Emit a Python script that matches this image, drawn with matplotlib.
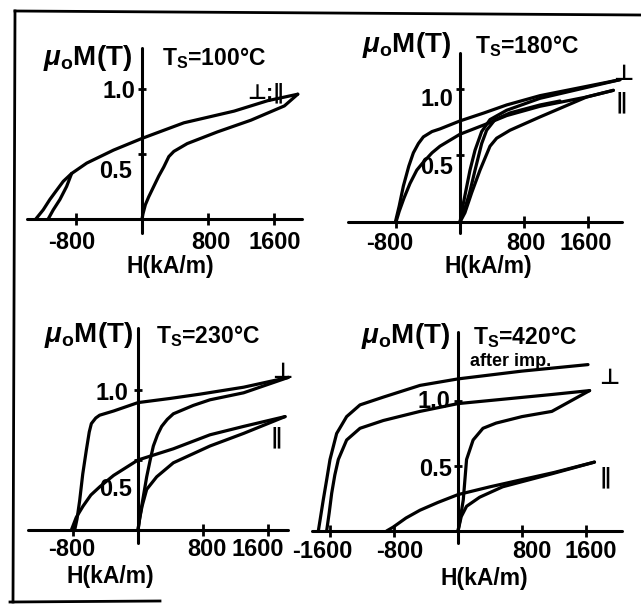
import matplotlib
matplotlib.use("Agg")
import matplotlib.pyplot as plt
from matplotlib.lines import Line2D

W, H = 641, 614

plt.rcParams['font.family'] = ['Liberation Sans', 'DejaVu Sans']
plt.rcParams['font.weight'] = 'bold'
plt.rcParams['mathtext.fontset'] = 'custom'
plt.rcParams['mathtext.rm'] = 'Liberation Sans:bold'
plt.rcParams['mathtext.it'] = 'Liberation Sans:italic:bold'
plt.rcParams['mathtext.bf'] = 'Liberation Sans:bold'

# field H in kA/m, magnetisation mu0*M in T

# Ts = 100 C (perpendicular and parallel coincide)
p1_up_h = [-1287, -1198, -1117, -1036, -954, -853, -670, -345, 0, 508, 1117, 1523, 1888]
p1_up_m = [0, 0.07, 0.15, 0.22, 0.29, 0.35, 0.43, 0.53, 0.62, 0.74, 0.83, 0.91, 0.96]
p1_in_h = [-1137, -1076, -995, -914, -853]
p1_in_m = [0, 0.07, 0.15, 0.25, 0.35]
p1_lo_h = [0, 12, 41, 81, 142, 203, 264, 325, 386, 548, 914, 1320, 1726, 1888]
p1_lo_m = [0, 0.04, 0.11, 0.17, 0.25, 0.33, 0.40, 0.48, 0.52, 0.58, 0.67, 0.76, 0.87, 0.96]

# Ts = 180 C
p2_perp_up_h = [-808, -760, -708, -640, -583, -520, -458, -350, -250, 0, 300, 583, 1000, 1417, 2000]
p2_perp_up_m = [0, 0.12, 0.27, 0.42, 0.52, 0.59, 0.64, 0.68, 0.70, 0.76, 0.82, 0.88, 0.95, 1.00, 1.07]
p2_perp_lo_h = [0, 42, 85, 125, 188, 271, 375, 583, 1000, 1500, 2000]
p2_perp_lo_m = [0, 0.14, 0.27, 0.39, 0.54, 0.68, 0.77, 0.84, 0.93, 1.00, 1.07]
p2_par_up_h = [-800, -760, -700, -625, -540, -458, -350, -250, 0, 300, 583, 1000, 1583, 1917]
p2_par_up_m = [0, 0.08, 0.18, 0.29, 0.39, 0.45, 0.52, 0.57, 0.66, 0.73, 0.80, 0.87, 0.94, 0.99]
p2_par_mid_h = [0, 60, 120, 188, 271, 333, 438, 625, 1000, 1250]
p2_par_mid_m = [0, 0.10, 0.22, 0.39, 0.59, 0.69, 0.77, 0.82, 0.88, 0.91]
p2_par_lo_h = [0, 62, 146, 250, 375, 458, 625, 1000, 1583, 1917]
p2_par_lo_m = [0, 0.07, 0.22, 0.39, 0.57, 0.63, 0.69, 0.79, 0.94, 0.99]

# Ts = 230 C
p3_perp_up_h = [-779, -750, -718, -680, -636, -600, -574, -520, -472, -300, 0, 400, 759, 1300, 1850]
p3_perp_up_m = [0, 0.08, 0.21, 0.40, 0.57, 0.70, 0.76, 0.80, 0.82, 0.85, 0.91, 0.94, 0.97, 1.02, 1.09]
p3_perp_lo_h = [0, 25, 60, 107, 150, 189, 240, 291, 360, 435, 681, 886, 1300, 1850]
p3_perp_lo_m = [0, 0.10, 0.22, 0.38, 0.50, 0.60, 0.68, 0.74, 0.79, 0.83, 0.89, 0.93, 0.98, 1.09]
p3_par_up_h = [-820, -760, -677, -580, -468, -300, 0, 435, 886, 1300, 1810]
p3_par_up_m = [0, 0.09, 0.17, 0.25, 0.31, 0.39, 0.50, 0.58, 0.68, 0.74, 0.81]
p3_par_lo_h = [0, 20, 50, 107, 230, 435, 886, 1300, 1810]
p3_par_lo_m = [0, 0.08, 0.17, 0.29, 0.38, 0.48, 0.60, 0.69, 0.81]

# Ts = 420 C
p4_imp_h = [-1746, -1720, -1684, -1640, -1600, -1517, -1392, -1225, -933, -475, 0, 800, 1625]
p4_imp_m = [0, 0.10, 0.24, 0.40, 0.55, 0.75, 0.88, 0.97, 1.03, 1.12, 1.17, 1.23, 1.28]
p4_perp_up_h = [-1642, -1610, -1579, -1540, -1496, -1392, -1225, -933, -475, 0, 1173, 1645]
p4_perp_up_m = [0, 0.14, 0.29, 0.43, 0.55, 0.70, 0.79, 0.85, 0.92, 0.98, 1.05, 1.08]
p4_perp_lo_h = [0, 30, 66, 107, 189, 312, 476, 800, 1173, 1645]
p4_perp_lo_m = [0, 0.10, 0.24, 0.55, 0.70, 0.79, 0.83, 0.88, 0.92, 1.08]
p4_par_up_h = [-893, -810, -650, -475, -250, 0, 400, 763, 1200, 1706]
p4_par_up_m = [0, 0.03, 0.10, 0.16, 0.22, 0.28, 0.34, 0.39, 0.45, 0.53]
p4_par_lo_h = [0, 40, 107, 271, 558, 1173, 1706]
p4_par_lo_m = [0, 0.11, 0.19, 0.26, 0.34, 0.44, 0.53]

temps = ['100', '180', '230', '420']
xticks = [[-800, 800, 1600], [-800, 800, 1600], [-800, 800, 1600], [-1600, -800, 800, 1600]]
yticks = [0.5, 1.0]

curves = [
    [(p1_up_h, p1_up_m), (p1_in_h, p1_in_m), (p1_lo_h, p1_lo_m)],
    [(p2_perp_up_h, p2_perp_up_m), (p2_perp_lo_h, p2_perp_lo_m),
     (p2_par_up_h, p2_par_up_m), (p2_par_mid_h, p2_par_mid_m), (p2_par_lo_h, p2_par_lo_m)],
    [(p3_perp_up_h, p3_perp_up_m), (p3_perp_lo_h, p3_perp_lo_m),
     (p3_par_up_h, p3_par_up_m), (p3_par_lo_h, p3_par_lo_m)],
    [(p4_imp_h, p4_imp_m), (p4_perp_up_h, p4_perp_up_m), (p4_perp_lo_h, p4_perp_lo_m),
     (p4_par_up_h, p4_par_up_m), (p4_par_lo_h, p4_par_lo_m)],
]

# pixel layout of each sketch: origin, px per 800 kA/m, px per 1 T, axis extents,
# tick label offsets, title/label centres
layout = [
    dict(o=(142, 219), sx=66, sy=130, xs=(27, 302), ys=(48, 233), xdy=-24,
         xdx=[-4, 3, 1], ylab={1.0: (-7, -3), 0.5: (-10, -17)},
         mu=(88, 58), ts=(214, 58), hl=(170, 267)),
    dict(o=(460, 222), sx=64, sy=133, xs=(348, 622), ys=(53, 233), xdy=-22,
         xdx=[-6, 2, -2], ylab={1.0: (-7, -11), 0.5: (-7, -12)},
         mu=(407, 45), ts=(527, 46), hl=(488, 267)),
    dict(o=(138, 530), sx=65, sy=140, xs=(28, 288), ys=(328, 543), xdy=-19,
         xdx=[-1, 4, -10], ylab={1.0: (-10, -3), 0.5: (-6, -30)},
         mu=(89, 335), ts=(208, 336), hl=(110, 577)),
    dict(o=(458, 531), sx=64, sy=130, xs=(312, 622), ys=(332, 543), xdy=-20,
         xdx=[-8, 6, 10, 5], ylab={1.0: (-8, 0), 0.5: (-6, -4)},
         mu=(406, 336), ts=(525, 337), hl=(484, 579)),
]

tags = [
    [('⊥;∥', 266, 93, 15)],
    [('⊥', 623, 75, 16), ('∥', 621, 103, 16)],
    [('⊥', 282, 372, 16), ('∥', 276, 438, 16)],
    [('after imp.', 511, 362, 13), ('⊥', 609, 379, 16), ('∥', 605, 478, 16)],
]

fig = plt.figure(figsize=(W / 100, H / 100), dpi=100)


def fx(x):
    return x / W


def fy(y):
    return 1 - y / H


for k, L in enumerate(layout):
    ox, oy = L['o']
    x0, x1 = L['xs']
    y0, y1 = L['ys']
    ax = fig.add_axes([fx(x0), fy(y1), (x1 - x0) / W, (y1 - y0) / H])
    ax.set_xlim((x0 - ox) / L['sx'] * 800, (x1 - ox) / L['sx'] * 800)
    ax.set_ylim((oy - y1) / L['sy'], (oy - y0) / L['sy'])
    ax.patch.set_visible(False)
    ax.spines['top'].set_visible(False)
    ax.spines['right'].set_visible(False)
    for s in ('left', 'bottom'):
        ax.spines[s].set_position(('data', 0))
        ax.spines[s].set_linewidth(2.2)
        ax.spines[s].set_capstyle('round')
    ax.set_xticks(xticks[k])
    ax.set_yticks(yticks)
    ax.set_xticklabels([])
    ax.set_yticklabels([])
    ax.tick_params(axis='x', direction='inout', length=9, width=2)
    ax.tick_params(axis='y', direction='inout', length=6, width=2)

    for h, m in curves[k]:
        ax.plot(h, m, color='k', lw=2.3, solid_joinstyle='round',
                solid_capstyle='round', clip_on=False)

    for v, dx in zip(xticks[k], L['xdx']):
        ax.annotate(str(v), (v, 0), xytext=(dx, L['xdy']), textcoords='offset pixels',
                    ha='center', va='center', fontsize=17)
    for v in yticks:
        dx, dy = L['ylab'][v]
        ax.annotate(f'{v:.1f}', (0, v), xytext=(dx, dy), textcoords='offset pixels',
                    ha='right', va='center', fontsize=17)

    fig.text(fx(L['mu'][0]), fy(L['mu'][1]), r'$\mu_\mathrm{o}$M(T)',
             ha='center', va='center', fontsize=20)
    fig.text(fx(L['ts'][0]), fy(L['ts'][1]), r'T$_\mathrm{S}$=' + temps[k] + '°C',
             ha='center', va='center', fontsize=16.5)
    fig.text(fx(L['hl'][0]), fy(L['hl'][1]), 'H(kA/m)', ha='center', va='center',
             fontsize=16.5)

    for s, tx, ty, fs in tags[k]:
        fig.text(fx(tx), fy(ty), s, ha='center', va='center', fontsize=fs)

# border drawn round the figure
for (xa, ya), (xb, yb) in [((15, 11), (641, 15)), ((15, 11), (13, 602)), ((10, 602), (160, 601))]:
    fig.add_artist(Line2D([fx(xa), fx(xb)], [fy(ya), fy(yb)], color='k', lw=2))

fig.savefig('out.png', dpi=100)
